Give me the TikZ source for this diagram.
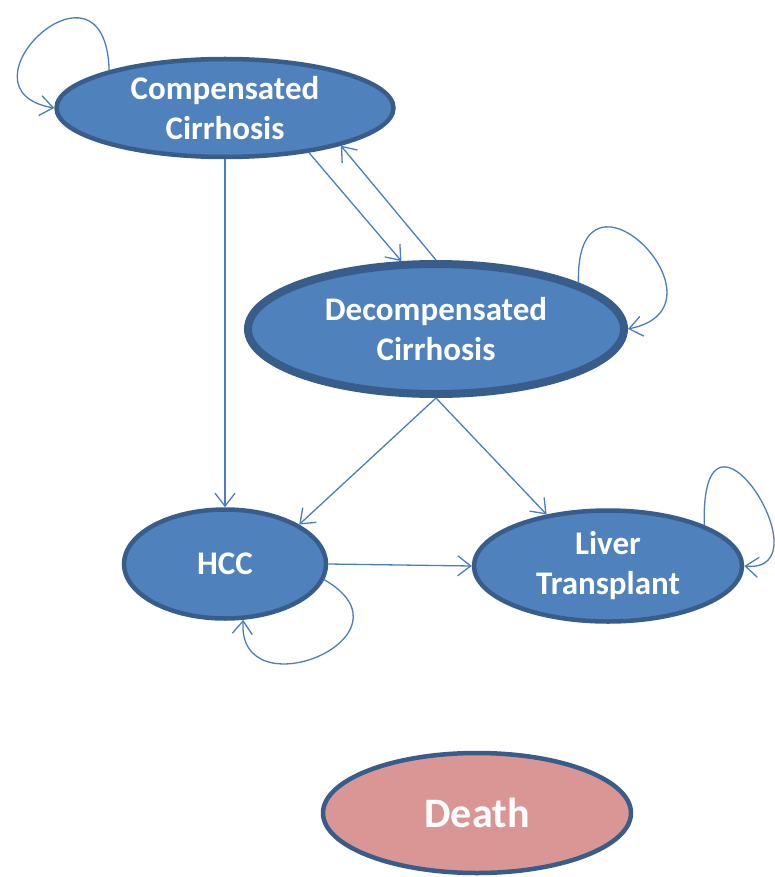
\documentclass[tikz,border=0pt]{standalone}
\usepackage{fontspec}
\setmainfont{Carlito}
\usetikzlibrary{shapes.geometric,arrows.meta}
\definecolor{nodefill}{HTML}{4F81BD}
\definecolor{nodeline}{HTML}{385D8A}
\definecolor{deathfill}{HTML}{D99694}
\definecolor{arrowcol}{HTML}{4A7EBB}
\begin{document}
\begin{tikzpicture}[x=1pt,y=-1pt,
  state/.style={ellipse, draw=nodeline, fill=nodefill, line width=4.5pt, text=white,
    font=\fontsize{33}{40}\selectfont\bfseries, align=center, inner xsep=0pt, inner ysep=-12pt},
  arr/.style={draw=arrowcol, line width=1.3pt, -{Straight Barb[length=13pt,width=20pt]}}]
\useasboundingbox (0,0) rectangle (774,877);
\node[state, minimum width=337pt, minimum height=98pt] (comp) at (225,108) {Compensated\\Cirrhosis};
\node[state, line width=8pt, minimum width=376pt, minimum height=130pt] (decomp) at (436,329) {Decompensated\\Cirrhosis};
\node[state, minimum width=202pt, minimum height=109pt] (hcc) at (225,564) {HCC};
\node[state, minimum width=268pt, minimum height=111pt] (liver) at (608,566) {Liver\\Transplant};
\node[state, fill=deathfill, minimum width=308pt, minimum height=120pt,
  font=\fontsize{42}{48}\selectfont\bfseries] (death) at (477,813) {Death};

\draw[arr] (comp.south) -- (hcc.north);
\draw[arr] (comp.-28) -- (decomp.117);
\draw[arr] (decomp.north) -- (comp.-18);
\draw[arr] (decomp.south) -- (hcc.28);
\draw[arr] (decomp.south) -- (liver.140);
\draw[arr] (hcc.east) -- (liver.west);

\draw[arr] (comp.162) .. controls +(-4,-130) and +(-105,-18) .. (comp.west);
\draw[arr] (decomp.18) .. controls +(-3,-140) and +(110,-22) .. (decomp.east);
\draw[arr] (hcc.-9) .. controls +(99,57) and +(-6,93) .. (hcc.-72);
\draw[arr] (liver.23) .. controls +(-4,-155) and +(85,8) .. (liver.east);
\end{tikzpicture}
\end{document}
